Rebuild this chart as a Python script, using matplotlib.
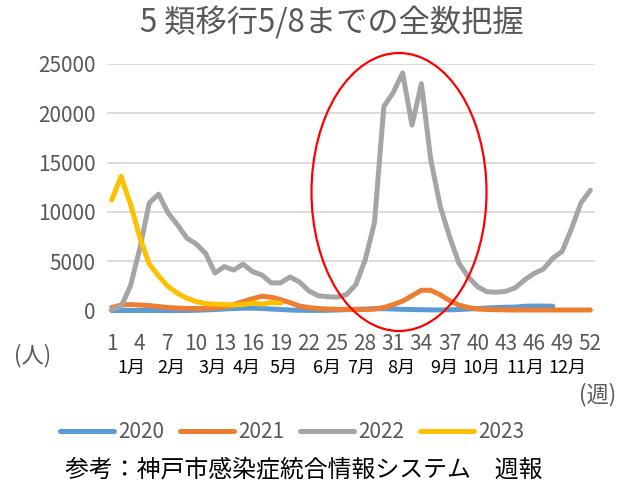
import matplotlib
matplotlib.use('Agg')
import matplotlib.pyplot as plt
import matplotlib.transforms as mtransforms
from matplotlib.patches import Ellipse
from matplotlib.lines import Line2D

plt.rcParams['font.family'] = ['Noto Sans CJK JP', 'DejaVu Sans']

# ---- data ----
weeks = list(range(1, 53))
years = ['2020', '2021', '2022', '2023']
colors = ['#5B9BD5', '#ED7D31', '#A5A5A5', '#FFC000']

cases_2020 = [0, 0, 0, 0, 0, 0, 0, 0, 0, 20, 60, 100, 150, 200, 250, 250, 200, 150,
              100, 50, 20, 10, 10, 20, 50, 80, 120, 150, 180, 180, 150, 120, 100, 80,
              60, 60, 70, 100, 150, 200, 250, 300, 330, 350, 430, 450, 450, 430]
cases_2021 = [300, 550, 600, 550, 500, 400, 300, 250, 200, 200, 200, 250, 350, 600,
              900, 1200, 1450, 1350, 1100, 800, 450, 300, 200, 150, 120, 100, 100, 100,
              150, 300, 600, 950, 1500, 2050, 2050, 1600, 1000, 550, 300, 150, 100, 80,
              60, 50, 50, 50, 50, 50, 50, 50, 50, 50]
cases_2022 = [100, 400, 2500, 6300, 10900, 11800, 9900, 8700, 7350, 6750, 5800, 3800,
              4450, 4100, 4700, 3950, 3600, 2800, 2800, 3400, 2900, 2000, 1500, 1400,
              1350, 1600, 2600, 5100, 8900, 20700, 22100, 24100, 18800, 23000, 15300,
              10600, 7500, 4800, 3400, 2400, 1900, 1850, 1950, 2300, 3100, 3750, 4200,
              5300, 6000, 8300, 10900, 12200]
cases_2023 = [11200, 13600, 10800, 7400, 4700, 3500, 2450, 1750, 1250, 900, 700, 650,
              600, 550, 600, 750, 650, 800, 750]
series = [cases_2020, cases_2021, cases_2022, cases_2023]

x_ticks = list(range(1, 53, 3))
y_ticks = list(range(0, 25001, 5000))
month_labels = ['1月', '2月', '3月', '4月', '5月', '6月', '7月', '8月', '9月', '10月', '11月', '12月']
month_pos = [3.15, 7.4, 11.7, 15.4, 19.3, 23.9, 27.6, 31.8, 36.4, 40.4, 45.1, 49.6]

title = '5 類移行5/8までの全数把握'
source = '参考：神戸市感染症統合情報システム　週報'

# ---- figure ----
W, H = 623, 492
fig = plt.figure(figsize=(W / 100, H / 100), dpi=100)
ax = fig.add_axes([107 / W, 1 - 310.5 / H, 488 / W, 246.5 / H])
ax.set_xlim(0.5, 52.5)
ax.set_ylim(0, 25000)
ax.set_xticks(x_ticks)
ax.set_yticks(y_ticks)
ax.grid(axis='y', color='#D9D9D9', lw=1.3)
ax.set_axisbelow(True)
for s in ax.spines.values():
    s.set_visible(False)
ax.tick_params(length=0, colors='#595959', labelsize=15)
ax.tick_params(axis='y', pad=8)
ax.tick_params(axis='x', pad=16)

for yr, col, vals in zip(years, colors, series):
    ax.plot(weeks[:len(vals)], vals, color=col, lw=3.6, solid_capstyle='round',
            solid_joinstyle='round', clip_on=False, label=yr)

# month labels
trans = mtransforms.blended_transform_factory(ax.transData, fig.transFigure)
for lab, p in zip(month_labels, month_pos):
    ax.text(p, 1 - 368 / H, lab, transform=trans, ha='center', va='center',
            fontsize=13, color='black')

fig.text(33 / W, 1 - 356 / H, '(人)', ha='center', va='center', fontsize=16, color='#595959')
fig.text(598 / W, 1 - 395 / H, '(週)', ha='center', va='center', fontsize=16, color='#595959')

fig.text(332 / W, 1 - 23 / H, title, ha='center', va='center', fontsize=22.5, color='#595959')
fig.text(303.5 / W, 1 - 470 / H, source, ha='center', va='center', fontsize=17.2, color='black')

handles = [Line2D([0], [0], color=c, lw=3.6, solid_capstyle='round') for c in colors]
leg = fig.legend(handles, years, loc='center', bbox_to_anchor=(292.5 / W, 1 - 432 / H),
                 ncol=4, frameon=False, fontsize=15, handlelength=2.6, handletextpad=0.2,
                 columnspacing=0.75, labelcolor='#595959')

# red ellipse highlight
ell = Ellipse((399 / W, 1 - 192 / H), 175 / W, 278 / H, transform=fig.transFigure,
              fill=False, edgecolor='#FF0000', lw=1.6)
fig.add_artist(ell)

fig.savefig('out.png', dpi=100)
